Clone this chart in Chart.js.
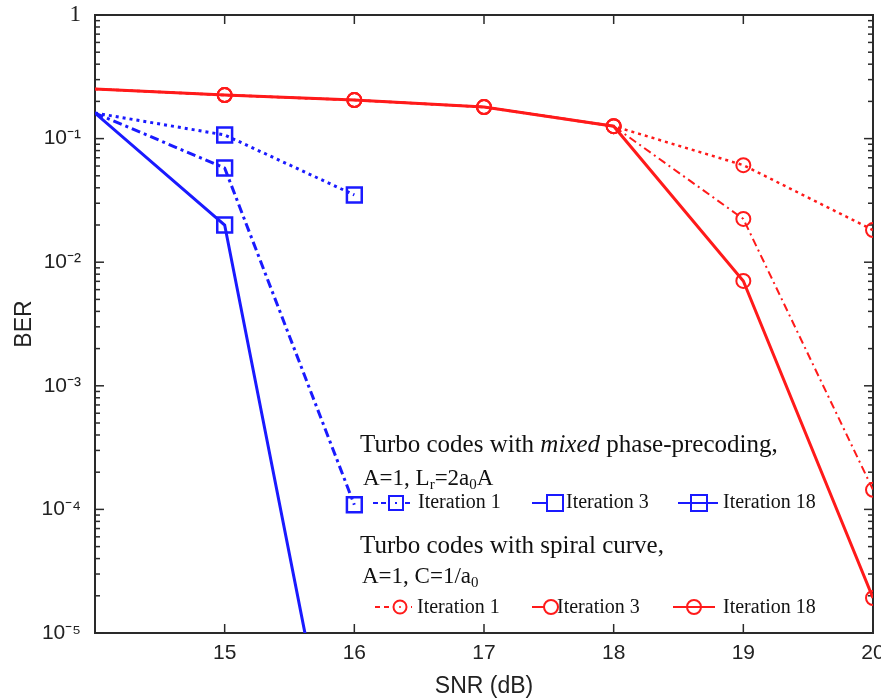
<!DOCTYPE html>
<html>
<head>
<meta charset="utf-8">
<script src="https://cdn.jsdelivr.net/npm/chart.js@4.4.1/dist/chart.umd.min.js"></script>
<style>
  body { margin: 0; background: #fff; }
  #wrap { position: relative; width: 881px; height: 700px; }
  .lg { position: absolute; font-family: "Liberation Serif", "Times New Roman", serif;
        color: #111; white-space: nowrap; }
  .lg sub { font-size: 0.65em; vertical-align: baseline; position: relative; top: 0.3em; }
  .head { font-size: 25px; line-height: 25px; }
  .sub2 { font-size: 23px; line-height: 23px; }
  .row  { font-size: 20px; line-height: 20px; }
  .sym  { position: absolute; overflow: visible; }
</style>
</head>
<body>
<div id="wrap">
  <canvas id="chart" width="881" height="700"></canvas>

  <!-- legend: mixed phase-precoding -->
  <div class="lg head" style="left:360px;top:431px">Turbo codes with <i>mixed</i> phase-precoding,</div>
  <div class="lg sub2" style="left:363px;top:466px">A=1, L<sub>r</sub>=2a<sub>0</sub>A</div>
  <svg class="sym" style="left:373px;top:495px" width="40" height="16">
    <line x1="0" y1="8" x2="38" y2="8" stroke="#1a1aff" stroke-width="2" stroke-dasharray="5,3"/>
    <rect x="16" y="1" width="14" height="14" fill="#fff" stroke="#1a1aff" stroke-width="2"/>
    <rect x="22" y="7" width="2" height="2" fill="#1a1aff"/>
  </svg>
  <div class="lg row" style="left:418px;top:491px">Iteration 1</div>
  <svg class="sym" style="left:530px;top:494px" width="36" height="18">
    <line x1="2" y1="9" x2="17" y2="9" stroke="#1a1aff" stroke-width="2"/>
    <rect x="17" y="1" width="16" height="16" fill="none" stroke="#1a1aff" stroke-width="2"/>
  </svg>
  <div class="lg row" style="left:566px;top:491px">Iteration 3</div>
  <svg class="sym" style="left:678px;top:494px" width="42" height="18">
    <line x1="0" y1="9" x2="40" y2="9" stroke="#1a1aff" stroke-width="2"/>
    <rect x="13" y="1" width="16" height="16" fill="none" stroke="#1a1aff" stroke-width="2"/>
  </svg>
  <div class="lg row" style="left:723px;top:491px">Iteration 18</div>

  <!-- legend: spiral curve -->
  <div class="lg head" style="left:360px;top:532px">Turbo codes with spiral curve,</div>
  <div class="lg sub2" style="left:362px;top:564px">A=1, C=1/a<sub>0</sub></div>
  <svg class="sym" style="left:375px;top:598px" width="40" height="18">
    <line x1="0" y1="9" x2="37" y2="9" stroke="#ff1a1a" stroke-width="2" stroke-dasharray="5,4"/>
    <circle cx="25" cy="9" r="6.5" fill="#fff" stroke="#ff1a1a" stroke-width="2"/>
    <circle cx="25" cy="9" r="1" fill="#ff1a1a"/>
  </svg>
  <div class="lg row" style="left:417px;top:596px">Iteration 1</div>
  <svg class="sym" style="left:532px;top:598px" width="28" height="18">
    <line x1="0" y1="9" x2="12" y2="9" stroke="#ff1a1a" stroke-width="2"/>
    <circle cx="19" cy="9" r="7" fill="none" stroke="#ff1a1a" stroke-width="2"/>
  </svg>
  <div class="lg row" style="left:557px;top:596px">Iteration 3</div>
  <svg class="sym" style="left:673px;top:598px" width="44" height="18">
    <line x1="0" y1="9" x2="42" y2="9" stroke="#ff1a1a" stroke-width="2"/>
    <circle cx="21" cy="9" r="7" fill="none" stroke="#ff1a1a" stroke-width="2"/>
  </svg>
  <div class="lg row" style="left:723px;top:596px">Iteration 18</div>
</div>

<script>
// ── Data ─────────────────────────────────────────────────────────────
const snrMixed  = [14, 15, 16];
const mixedIt1  = [0.161, 0.107, 0.035];
const mixedIt3  = [0.161, 0.0578, 1.09e-4];
const mixedIt18 = [0.161, 0.020, 9.3e-8];   // runs off the bottom of the axes

const snrSpiral  = [14, 15, 16, 17, 18, 19, 20];
const spiralIt1  = [0.252, 0.225, 0.205, 0.180, 0.126, 0.061, 0.0182];
const spiralIt3  = [0.252, 0.225, 0.205, 0.180, 0.126, 0.0224, 1.44e-4];
const spiralIt18 = [0.252, 0.225, 0.205, 0.180, 0.126, 0.00705, 1.92e-5];

const xTicks = [15, 16, 17, 18, 19, 20];
const yTicks = [1e-5, 1e-4, 1e-3, 1e-2, 1e-1, 1];
const yTickLabels = ['10\u207B\u2075', '10\u207B\u2074', '10\u207B\u00B3', '10\u207B\u00B2', '10\u207B\u00B9', '1'];

const BLUE = '#1a1aff';
const RED  = '#ff1a1a';
const AXIS = '#2a2a2a';

const pts = (xs, ys) => xs.map((x, i) => ({ x, y: ys[i] }));

// first point sits on the left axis and has no marker
const hideFirst = r => c => (c.dataIndex === 0 ? 0 : r);

function series(xs, ys, color, dash, width, style, radius, extra) {
  return Object.assign({
    data: pts(xs, ys),
    borderColor: color,
    borderWidth: width,
    borderDash: dash,
    tension: 0,
    pointStyle: style,
    pointRadius: hideFirst(radius),
    pointBorderColor: color,
    pointBackgroundColor: 'rgba(0,0,0,0)',
    pointBorderWidth: style === 'rect' ? 2.5 : 2,
  }, extra || {});
}

// ── Box frame with MATLAB-style inward ticks ─────────────────────────
const frameTicks = {
  id: 'frameTicks',
  beforeDatasetsDraw(chart) {
    const { ctx, chartArea: a, scales: { x, y } } = chart;
    ctx.save();
    ctx.strokeStyle = AXIS;
    ctx.lineWidth = 2;
    ctx.strokeRect(a.left, a.top, a.right - a.left, a.bottom - a.top);
    ctx.lineWidth = 1.5;
    const seg = (x1, y1, x2, y2) => {
      ctx.beginPath(); ctx.moveTo(x1, y1); ctx.lineTo(x2, y2); ctx.stroke();
    };
    xTicks.forEach(v => {
      const px = x.getPixelForValue(v);
      seg(px, a.bottom, px, a.bottom - 9);
      seg(px, a.top, px, a.top + 9);
    });
    yTicks.forEach(v => {
      const py = y.getPixelForValue(v);
      seg(a.left, py, a.left + 9, py);
      seg(a.right, py, a.right - 9, py);
      if (v >= 1) return;
      for (let m = 2; m <= 9; m++) {
        const pm = y.getPixelForValue(v * m);
        seg(a.left, pm, a.left + 5, pm);
        seg(a.right, pm, a.right - 5, pm);
      }
    });
    ctx.restore();
  }
};

new Chart(document.getElementById('chart'), {
  type: 'line',
  data: {
    datasets: [
      series(snrSpiral, spiralIt18, RED, [], 3, 'circle', 7),
      series(snrSpiral, spiralIt3, RED, [8, 4, 2, 4], 2, 'circle', 7),
      series(snrSpiral, spiralIt1, RED, [3, 4], 2.5, 'circle', 7),
      series(snrMixed, mixedIt18, BLUE, [], 3, 'rect', 10.5,
             { clip: { left: 0, top: 0, right: 0, bottom: 0 } }),
      series(snrMixed, mixedIt3, BLUE, [9, 4, 3, 4], 3, 'rect', 10.5),
      series(snrMixed, mixedIt1, BLUE, [3, 4], 3, 'rect', 10.5),
    ]
  },
  options: {
    responsive: false,
    animation: false,
    devicePixelRatio: 1,
    layout: { autoPadding: false, padding: { left: 0, right: 8, top: 15, bottom: 0 } },
    plugins: { legend: { display: false }, tooltip: { enabled: false } },
    scales: {
      x: {
        type: 'linear',
        min: 14, max: 20,
        afterBuildTicks: s => { s.ticks = xTicks.map(v => ({ value: v })); },
        afterFit: s => { s.height = 67; s.paddingLeft = 0; s.paddingRight = 0; },
        grid: { display: false, drawTicks: false },
        border: { display: false },
        ticks: {
          padding: 8,
          color: '#222',
          font: { family: 'Liberation Sans, Arial, sans-serif', size: 21 },
        },
        title: {
          display: true,
          text: 'SNR (dB)',
          color: '#222',
          padding: { top: 0, bottom: 0 },
          font: { family: 'Liberation Sans, Arial, sans-serif', size: 23 },
        },
      },
      y: {
        type: 'logarithmic',
        min: 1e-5, max: 1,
        afterBuildTicks: s => { s.ticks = yTicks.map(v => ({ value: v, major: true })); },
        afterFit: s => { s.width = 95; s.paddingTop = 0; s.paddingBottom = 0; },
        grid: { display: false, drawTicks: false },
        border: { display: false },
        ticks: {
          padding: 14,
          color: '#222',
          callback: (v, i) => yTickLabels[i],
          font: c => (c.tick && c.tick.value === 1
            ? { family: 'Liberation Serif, Times New Roman, serif', size: 23 }
            : { family: 'Liberation Sans, Arial, sans-serif', size: 21 }),
        },
        title: {
          display: true,
          text: 'BER',
          color: '#222',
          padding: { top: 11, bottom: 0 },
          font: { family: 'Liberation Sans, Arial, sans-serif', size: 23 },
        },
      },
    },
  },
  plugins: [frameTicks],
});
</script>
</body>
</html>
